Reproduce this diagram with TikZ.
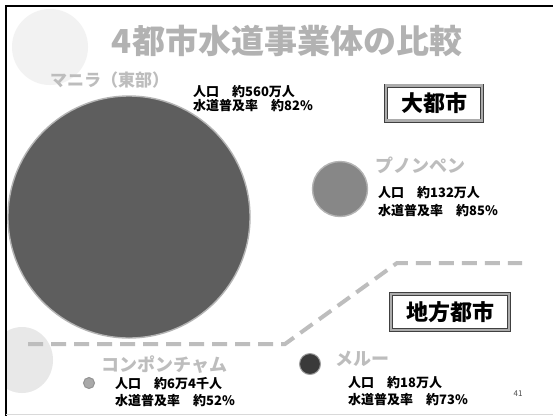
\documentclass[tikz,border=0pt]{standalone}
\usepackage{fontspec}
\newfontfamily\jp{Noto Sans CJK JP}
\definecolor{titlegray}{HTML}{B2B2B2}
\definecolor{labelgray}{HTML}{BDBDBD}
\definecolor{dashgray}{HTML}{BDBDBD}
\definecolor{bigfill}{HTML}{5E5E5E}
\definecolor{ppfill}{HTML}{878787}
\definecolor{kcfill}{HTML}{A9A9A9}
\definecolor{merufill}{HTML}{3A3A3A}
\definecolor{ringgray}{HTML}{B4B4B4}
\definecolor{decogray}{HTML}{F2F2F2}
\definecolor{decogray2}{HTML}{E8E8E8}
\begin{document}
\begin{tikzpicture}[x=1pt,y=-1pt,
  titletext/.style={font=\jp\bfseries\fontsize{33}{33}\selectfont, text=titlegray, inner sep=0},
  citylabel/.style={font=\jp\bfseries\fontsize{18}{18}\selectfont, text=labelgray, anchor=west, inner sep=0},
  infotext/.style={font=\jp\bfseries\fontsize{13}{13}\selectfont, text=black, anchor=west, inner sep=0},
  city/.style={circle, inner sep=0, line width=1.4pt},
  catbox/.style={draw=black!75, double=gray!65, double distance=2.4pt, line width=0.8pt, fill=white,
     font=\jp\bfseries\fontsize{22}{22}\selectfont, inner sep=0},
  divider/.style={draw=dashgray, line width=4pt, dash pattern=on 15pt off 8pt}
]
\useasboundingbox (0,0) rectangle (553,416);
\fill[white] (0,0) rectangle (553,416);
% faint decorative shapes
\begin{scope}
\clip (7,7) rectangle (553,416);
\fill[decogray] (50,47) circle[radius=38];
\fill[decogray2] (22,360) ellipse[x radius=31, y radius=33];
\end{scope}
% frame
\draw[line width=2.5pt, black] (553,6) -- (6,6) -- (6,416);
\draw[line width=1pt, black!15] (6,414.5) -- (553,414.5);

% title
\node[titletext] (title) at (287,41) {4都市水道事業体の比較};

% Manila
\node[city, minimum size=242pt, fill=bigfill, draw=ringgray] (manila) at (129,217) {};
\node[citylabel, font=\jp\bfseries\fontsize{17}{17}\selectfont] (manilaname) at (50,80) {マニラ（東部）};
\node[infotext] (manila1) at (193,92) {人口　約560万人};
\node[infotext] (manila2) at (193,105.5) {水道普及率　約82\%};

% Phnom Penh
\node[city, minimum size=55pt, fill=ppfill, draw=ringgray] (pp) at (340,189) {};
\node[citylabel] (ppname) at (375,165) {プノンペン};
\node[infotext] (pp1) at (378,193) {人口　約132万人};
\node[infotext] (pp2) at (378,211) {水道普及率　約85\%};

% category boxes
\node[catbox, minimum width=96pt, minimum height=35pt] (bigcity) at (434,103) {大都市};
\node[catbox, minimum width=118pt, minimum height=36pt] (localcity) at (450,312) {地方都市};

% dashed divider
\coordinate (d1) at (28,344);
\coordinate (d2) at (285,344);
\coordinate (d3) at (397,263);
\coordinate (d4) at (522,263);
\draw[divider] (d1) -- (d2) -- (d3) -- (d4);

% Kompong Cham
\node[city, minimum size=11pt, fill=kcfill, draw=gray!85, line width=1pt] (kc) at (89,383) {};
\node[citylabel] (kcname) at (101,365) {コンポンチャム};
\node[infotext] (kc1) at (115,384) {人口　約6万4千人};
\node[infotext] (kc2) at (115,401) {水道普及率　約52\%};

% Meru
\node[city, minimum size=21pt, fill=merufill, draw=gray!75, line width=1pt] (meru) at (310,364) {};
\node[citylabel] (meruname) at (335,359) {メルー};
\node[infotext] (meru1) at (348,383) {人口　約18万人};
\node[infotext] (meru2) at (348,400) {水道普及率　約73\%};

% page number
\node[font=\jp\fontsize{8}{8}\selectfont, text=black!70, inner sep=0] (pagenum) at (518,394) {41};
\end{tikzpicture}
\end{document}
